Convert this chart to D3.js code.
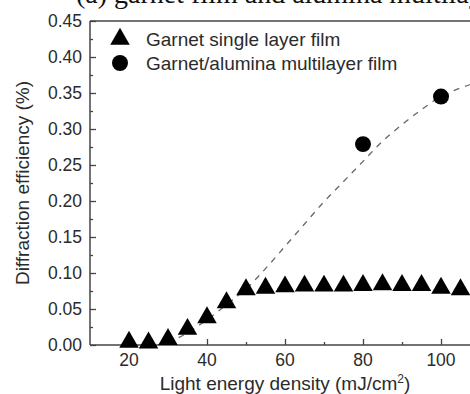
<!DOCTYPE html>
<html>
<head>
<meta charset="utf-8">
<script src="https://cdn.jsdelivr.net/npm/d3@7"></script>
<style>
  body { margin: 0; background: #fff; }
  svg { display: block; }
</style>
</head>
<body>
<div id="chart"></div>
<script>
// single layer film (triangles)
var singleX = [20, 25, 30, 35, 40, 45, 50, 55, 60, 65, 70, 75, 80, 85, 90, 95, 100, 105];
var singleY = [0.004, 0.003, 0.008, 0.022, 0.038, 0.059, 0.077, 0.079, 0.081, 0.082, 0.082, 0.082, 0.083, 0.084, 0.083, 0.083, 0.079, 0.077];
// multilayer film (circles)
var multiX = [80, 100];
var multiY = [0.279, 0.345];
// dashed fit curve
var fitX = [30, 35, 40, 45, 50, 55, 60, 65, 70, 75, 80, 85, 90, 95, 100, 105, 110];
var fitY = [0.003, 0.017, 0.035, 0.056, 0.078, 0.106, 0.137, 0.168, 0.199, 0.227, 0.255, 0.283, 0.306, 0.327, 0.345, 0.357, 0.366];

var xTicks = [20, 40, 60, 80, 100];
var xMinor = [30, 50, 70, 90];
var yTicks = [0, 0.05, 0.10, 0.15, 0.20, 0.25, 0.30, 0.35, 0.40, 0.45];
var yMinor = [0.025, 0.075, 0.125, 0.175, 0.225, 0.275, 0.325, 0.375, 0.425];
var legendNames = ["Garnet single layer film", "Garnet/alumina multilayer film"];

var W = 470, H = 394;
var margin = {left: 90, right: 480, top: 21, bottom: 345};
var axisCol = "#444", textCol = "#2b2b2b";
var font = "Liberation Sans, Arial, sans-serif";

var svg = d3.select("#chart").append("svg")
    .attr("width", W).attr("height", H);

var x = d3.scaleLinear().domain([10, 110]).range([margin.left, margin.right]);
var y = d3.scaleLinear().domain([0, 0.45]).range([margin.bottom, margin.top]);

// title cut at the top of the picture
svg.append("text")
    .attr("x", 76).attr("y", 3)
    .style("font", "28px 'Liberation Serif', 'Times New Roman', serif")
    .attr("fill", "#111")
    .text("(a) garnet film and alumina multilayer");

// frame top line
svg.append("line")
    .attr("x1", margin.left).attr("x2", margin.right).attr("y1", margin.top).attr("y2", margin.top)
    .attr("stroke", axisCol).attr("stroke-width", 1.5);

// y axis
var gy = svg.append("g").attr("transform", "translate(" + margin.left + ",0)")
    .call(d3.axisRight(y).tickValues(yTicks).tickSize(6).tickFormat(""));
gy.select(".domain").remove();
gy.selectAll("line").attr("stroke", axisCol).attr("stroke-width", 1.3);
var gy2 = svg.append("g").attr("transform", "translate(" + margin.left + ",0)")
    .call(d3.axisRight(y).tickValues(yMinor).tickSize(3).tickFormat(""));
gy2.select(".domain").remove();
gy2.selectAll("line").attr("stroke", axisCol).attr("stroke-width", 1.3);

svg.selectAll(".ylab").data(yTicks).enter().append("text")
    .attr("x", margin.left - 8).attr("y", function(d) { return y(d); })
    .attr("dy", "0.36em")
    .attr("text-anchor", "end")
    .style("font", "17.5px " + font)
    .attr("fill", textCol)
    .text(function(d) { return d3.format(".2f")(d); });

// x axis
var gx = svg.append("g").attr("transform", "translate(0," + margin.bottom + ")")
    .call(d3.axisTop(x).tickValues(xTicks).tickSize(6).tickFormat(""));
gx.select(".domain").remove();
gx.selectAll("line").attr("stroke", axisCol).attr("stroke-width", 1.3);
var gx2 = svg.append("g").attr("transform", "translate(0," + margin.bottom + ")")
    .call(d3.axisTop(x).tickValues(xMinor).tickSize(3).tickFormat(""));
gx2.select(".domain").remove();
gx2.selectAll("line").attr("stroke", axisCol).attr("stroke-width", 1.3);

svg.selectAll(".xlab").data(xTicks).enter().append("text")
    .attr("x", function(d) { return x(d); }).attr("y", margin.bottom + 21)
    .attr("text-anchor", "middle")
    .style("font", "17.5px " + font)
    .attr("fill", textCol)
    .text(function(d) { return d; });

// axis lines
svg.append("line").attr("x1", margin.left).attr("x2", margin.left).attr("y1", margin.top).attr("y2", margin.bottom)
    .attr("stroke", axisCol).attr("stroke-width", 1.5);
svg.append("line").attr("x1", margin.left).attr("x2", margin.right).attr("y1", margin.bottom).attr("y2", margin.bottom)
    .attr("stroke", axisCol).attr("stroke-width", 1.5);

// axis titles
var xt = svg.append("text")
    .attr("x", 285).attr("y", 390)
    .attr("text-anchor", "middle")
    .style("font", "19px " + font)
    .attr("fill", textCol);
xt.append("tspan").text("Light energy density (mJ/cm");
xt.append("tspan").attr("dy", -7).style("font-size", "12px").text("2");
xt.append("tspan").attr("dy", 7).text(")");

svg.append("text")
    .attr("transform", "translate(29," + ((margin.top + margin.bottom) / 2) + ") rotate(-90)")
    .attr("text-anchor", "middle")
    .style("font", "19px " + font)
    .attr("fill", textCol)
    .text("Diffraction efficiency (%)");

// dashed fit
var fitData = fitX.map(function(d, i) { return [d, fitY[i]]; });
svg.append("path")
    .datum(fitData)
    .attr("fill", "none")
    .attr("stroke", "#666")
    .attr("stroke-width", 1.3)
    .attr("stroke-dasharray", "6,6")
    .attr("d", d3.line()
        .x(function(d) { return x(d[0]); })
        .y(function(d) { return y(d[1]); })
        .curve(d3.curveMonotoneX));

// markers
var tri = d3.symbol().type(d3.symbolTriangle).size(165);
var circ = d3.symbol().type(d3.symbolCircle).size(200);

svg.selectAll(".tri").data(singleX).enter().append("path")
    .attr("d", tri)
    .attr("transform", function(d, i) { return "translate(" + x(d) + "," + y(singleY[i]) + ")"; })
    .attr("fill", "#000");

svg.selectAll(".circ").data(multiX).enter().append("path")
    .attr("d", circ)
    .attr("transform", function(d, i) { return "translate(" + x(d) + "," + y(multiY[i]) + ")"; })
    .attr("fill", "#000");

// legend
var leg = svg.append("g");
leg.append("path").attr("d", tri).attr("transform", "translate(120,39)").attr("fill", "#000");
leg.append("path").attr("d", circ).attr("transform", "translate(120,63)").attr("fill", "#000");
leg.selectAll("text").data(legendNames).enter().append("text")
    .attr("x", 146).attr("y", function(d, i) { return 39 + i * 24; })
    .attr("dy", "0.36em")
    .style("font", "19px " + font)
    .attr("fill", textCol)
    .text(function(d) { return d; });
</script>
</body>
</html>
